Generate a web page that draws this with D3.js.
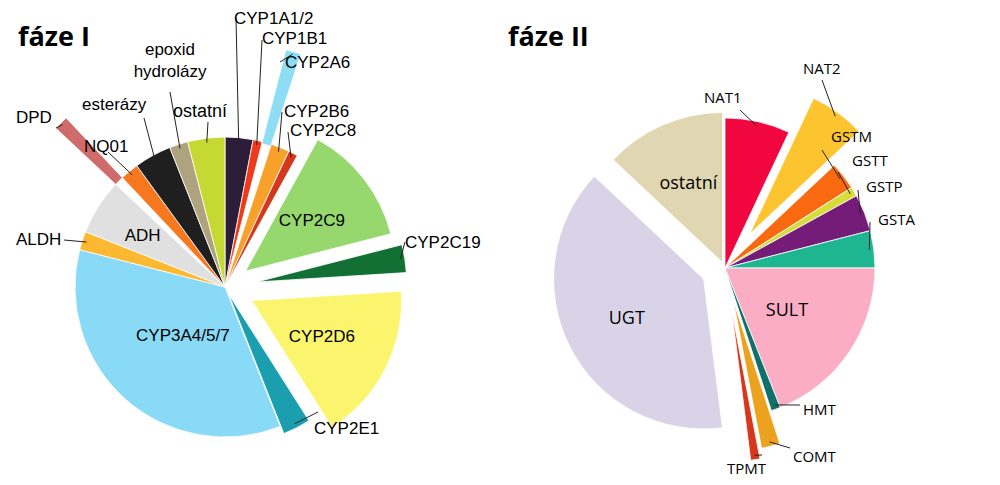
<!DOCTYPE html>
<html><head><meta charset="utf-8">
<script src="https://cdn.jsdelivr.net/npm/d3@7"></script>
<style>body{margin:0;background:#fff}</style>
</head><body>
<svg id="c" width="1000" height="485"></svg>
<script>
// faze I
var names1 = ['CYP1A1/2','CYP1B1','CYP2A6','CYP2B6','CYP2C8','CYP2C9','CYP2C19','CYP2D6','CYP2E1','CYP3A4/5/7','ALDH','ADH','DPD','NQ01','esterázy','epoxid hydrolázy','ostatní'];
var values1 = [3,1,1,2,1,13,3,17,3,35,2,6,1,2,4,2,4];
var colors1 = ['#2e1d38','#ee3a1b','#8fdcf5','#f7a12a','#d3381c','#97d86e','#127035','#fbf56e','#1b9faf','#88daf6','#fbb830','#e0e0e0','#cf6b6b','#f7781e','#1f1f1f','#aea27f','#c5d932'];
// faze II
var names2 = ['NAT1','NAT2','GSTM','GSTT','GSTP','GSTA','SULT','HMT','COMT','TPMT','UGT','ostatní'];
var values2 = [7,6,3,1,4,4,19,1,2,1,39,13];
var colors2 = ['#f2063f','#fcc42f','#f96a10','#d8dc38','#751c78','#1eb591','#fbadc5','#12706a','#eca21f','#d7381d','#d9d3e8','#e0d6b2'];

var svg = d3.select('#c');

function drawPie(cx, cy, r, names, values, colors, style, labels, fs) {
  var pie = d3.pie().sort(null).value(function(d){return d;});
  var arcs = pie(values);
  var g = svg.append('g').attr('transform','translate('+cx+','+cy+')');
  arcs.forEach(function(a, i) {
    var s = style[names[i]] || {};
    var off = s.off || 0, ir = s.ir || 0, or = s.or || r;
    var mid = (a.startAngle + a.endAngle) / 2;
    var dx = Math.sin(mid) * off, dy = -Math.cos(mid) * off;
    var arc = d3.arc().innerRadius(ir).outerRadius(or);
    g.append('path').attr('d', arc(a)).attr('fill', colors[i])
      .attr('stroke', '#fff').attr('stroke-width', 0.8)
      .attr('transform', 'translate(' + dx + ',' + dy + ')');
    var l = labels[names[i]];
    if (!l) return;
    if (l.inside) {
      var c = d3.arc().innerRadius(0).outerRadius(r * l.k).centroid(a);
      g.append('text').attr('x', c[0] + dx).attr('y', c[1] + dy + 6)
        .attr('text-anchor','middle').attr('font-size', l.fs || fs).text(names[i]);
    } else {
      var p = d3.arc().innerRadius(0).outerRadius(or * (l.e || 0.97)).centroid(a).map(function(v){return v * 2;});
      g.append('line').attr('x1', p[0] + dx).attr('y1', p[1] + dy)
        .attr('x2', l.lx - cx).attr('y2', l.ly - cy).attr('stroke', '#222').attr('stroke-width', 1);
      var t = g.append('text').attr('x', l.tx - cx).attr('y', l.ty - cy)
        .attr('text-anchor', l.a || 'start').attr('font-size', fs);
      var parts = names[i].split(' ');
      if (l.two) {
        t.append('tspan').attr('x', l.tx - cx).text(parts[0]);
        t.append('tspan').attr('x', l.tx - cx).attr('dy', 22).text(parts[1]);
      } else t.text(names[i]);
    }
  });
}

var style1 = {'CYP2A6':{ir:148,or:245},'DPD':{ir:150,or:232},'CYP2C9':{off:26},'CYP2C19':{off:32},'CYP2D6':{off:30},'CYP2E1':{off:8}};
var labels1 = {
  'CYP2C9':{inside:true,k:1.12},'CYP2D6':{inside:true,k:1.05},'CYP3A4/5/7':{inside:true,k:0.85},'ADH':{inside:true,k:1.3,fs:17},
  'CYP1A1/2':{lx:236,ly:18,tx:234,ty:24},
  'CYP1B1':{lx:262,ly:40,tx:262,ty:44},
  'CYP2A6':{lx:280,ly:62,tx:285,ty:68,e:0.99},
  'CYP2B6':{lx:282,ly:112,tx:284,ty:117},
  'CYP2C8':{lx:288,ly:132,tx:290,ty:136},
  'CYP2C19':{lx:405,ly:242,tx:405,ty:248},
  'CYP2E1':{lx:318,ly:412,tx:314,ty:434},
  'ALDH':{lx:64,ly:240,tx:16,ty:245},
  'DPD':{lx:56,ly:128,tx:16,ty:123,e:0.99},
  'NQ01':{lx:108,ly:152,tx:84,ty:152},
  'esterázy':{lx:144,ly:118,tx:82,ty:110},
  'epoxid hydrolázy':{lx:170,ly:92,tx:170,ty:55,a:'middle',two:true},
  'ostatní':{lx:208,ly:122,tx:173,ty:117}
};
svg.attr('font-family','Liberation Sans, Arial, sans-serif');
drawPie(225, 287, 150, names1, values1, colors1, style1, labels1, 17);

var style2 = {'NAT2':{off:42},'COMT':{off:34},'TPMT':{off:44},'UGT':{off:24},'ostatní':{off:6}};
var labels2 = {
  'UGT':{inside:true,k:1.15},'SULT':{inside:true,k:1.0},'ostatní':{inside:true,k:1.15},
  'NAT1':{lx:740,ly:110,tx:704,ty:103},
  'NAT2':{lx:822,ly:80,tx:803,ty:74},
  'GSTM':{lx:822,ly:150,tx:831,ty:142},
  'GSTT':{lx:838,ly:172,tx:852,ty:166},
  'GSTP':{lx:858,ly:190,tx:866,ty:192},
  'GSTA':{lx:870,ly:222,tx:878,ty:225},
  'HMT':{lx:800,ly:405,tx:803,ty:415},
  'COMT':{lx:790,ly:448,tx:793,ty:462},
  'TPMT':{lx:762,ly:455,tx:727,ty:474}
};
var g2 = svg.append('g').attr('font-family','Open Sans, sans-serif');
var svgSave = svg; svg = g2;
drawPie(725, 268, 150, names2, values2, colors2, style2, labels2, 15);
svg = svgSave;
svg.selectAll('text').filter(function(){return d3.select(this).text()==='ostatní' && +d3.select(this).attr('y')<0;}).attr('font-size',18);
svg.selectAll('text').filter(function(){var t=d3.select(this).text();return t==='UGT'||t==='SULT';}).attr('font-size',18);

svg.append('text').attr('x',18).attr('y',46).attr('font-size',27).attr('font-weight','bold').attr('font-family','Open Sans, sans-serif').text('fáze I');
svg.append('text').attr('x',508).attr('y',46).attr('font-size',27).attr('font-weight','bold').attr('font-family','Open Sans, sans-serif').text('fáze II');
</script>
</body></html>
